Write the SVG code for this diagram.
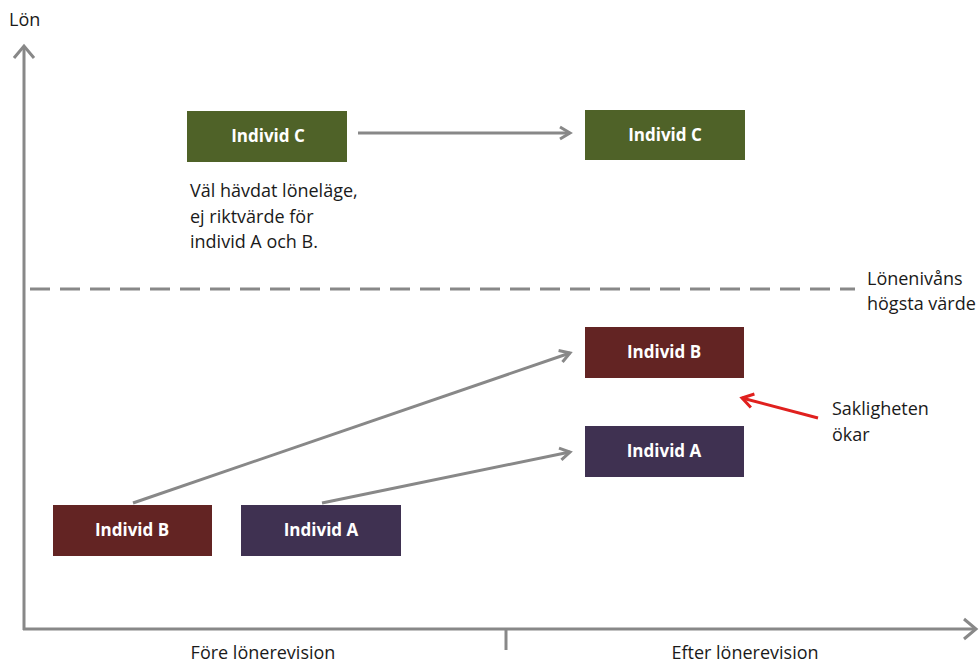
<svg xmlns="http://www.w3.org/2000/svg" width="980" height="666" viewBox="0 0 980 666">
<style>
text{font-family:"Open Sans","Liberation Sans",sans-serif;fill:#1a1a1a;font-size:18px}
.lbl{fill:#fff;font-weight:bold;font-size:17px;text-anchor:middle}
.ax{stroke:#888;stroke-width:3;fill:none}
.con{stroke:#888;stroke-width:3;fill:none;marker-end:url(#ah)}
</style>
<defs>
<marker id="ah" markerWidth="16" markerHeight="16" refX="13" refY="8" orient="auto" markerUnits="userSpaceOnUse">
<path d="M3,2 L13,8 L3,14" fill="none" stroke="#888" stroke-width="3"/>
</marker>
<marker id="ahr" markerWidth="18" markerHeight="18" refX="15" refY="9" orient="auto" markerUnits="userSpaceOnUse">
<path d="M4,2 L15,9 L4,16" fill="none" stroke="#e0201e" stroke-width="3"/>
</marker>
</defs>
<rect width="980" height="666" fill="#fff"/>
<g id="axes">
<path class="ax" d="M24,630 L24,46"/>
<path class="ax" d="M14,58 L24,46 L34,58"/>
<path class="ax" d="M23,629 L976,629"/>
<path class="ax" d="M964,619 L976,629 L964,639"/>
<path class="ax" d="M506,629 L506,650"/>
<text x="9" y="26">Lön</text>
<text x="263" y="659" text-anchor="middle">Före lönerevision</text>
<text x="745" y="659" text-anchor="middle">Efter lönerevision</text>
</g>
<g id="maxline">
<path d="M30,289 L855,289" stroke="#888" stroke-width="3" stroke-dasharray="20,10"/>
<text x="867" y="285">Lönenivåns</text>
<text x="867" y="310">högsta värde</text>
</g>
<g id="connectors">
<path class="con" d="M358,133 L570,133"/>
<path class="con" d="M133,503 L570,353"/>
<path class="con" d="M322,503 L570,452"/>
<path d="M818,418 L742,398" stroke="#e0201e" stroke-width="3" fill="none" marker-end="url(#ahr)"/>
</g>
<g id="cBefore">
<rect x="187" y="111" width="160" height="51" fill="#4f6228"/>
<text class="lbl" x="268" y="142">Individ C</text>
</g>
<g id="cAfter">
<rect x="585" y="110" width="160" height="50" fill="#4f6228"/>
<text class="lbl" x="665" y="141">Individ C</text>
</g>
<g id="note">
<text x="190" y="197">Väl hävdat löneläge,</text>
<text x="190" y="223">ej riktvärde för</text>
<text x="190" y="248">individ A och B.</text>
</g>
<g id="bAfter">
<rect x="585" y="327" width="159" height="51" fill="#632423"/>
<text class="lbl" x="664" y="358">Individ B</text>
</g>
<g id="aAfter">
<rect x="585" y="426" width="159" height="51" fill="#3f3151"/>
<text class="lbl" x="664" y="457">Individ A</text>
</g>
<g id="bBefore">
<rect x="53" y="505" width="159" height="51" fill="#632423"/>
<text class="lbl" x="132" y="536">Individ B</text>
</g>
<g id="aBefore">
<rect x="241" y="505" width="160" height="51" fill="#3f3151"/>
<text class="lbl" x="321" y="536">Individ A</text>
</g>
<g id="saklighet">
<text x="832" y="415">Sakligheten</text>
<text x="832" y="441">ökar</text>
</g>
</svg>
